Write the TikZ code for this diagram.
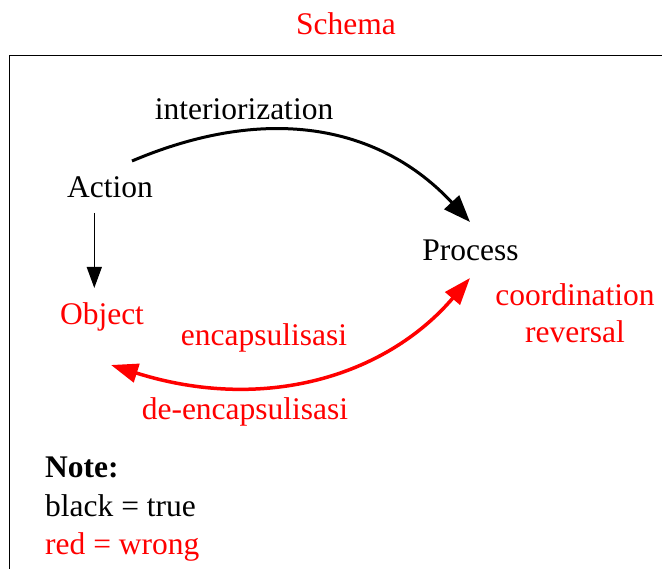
\documentclass[tikz,border=0pt]{standalone}
\usepackage{fontspec}
\setmainfont{Liberation Serif}
\usetikzlibrary{arrows.meta}
\definecolor{wrongred}{RGB}{255,0,0}
\tikzset{
  lbl/.style={anchor=base, inner sep=0pt, font=\fontsize{31.5}{38}\selectfont},
  redlbl/.style={lbl, text=wrongred},
  notelbl/.style={lbl, anchor=base west},
  flow/.style={line width=3pt, -{Triangle[length=27pt,width=20pt]}},
  backflow/.style={line width=3.5pt, draw=wrongred,
    {Triangle[length=27pt,width=19pt]}-{Triangle[length=27pt,width=19pt]}},
  thin arrow/.style={line width=1.3pt, -{Triangle[length=21pt,width=15pt]}}
}
\begin{document}
\begin{tikzpicture}[x=1pt,y=-1pt]
  \useasboundingbox (0,0) rectangle (662,569);
  % outer frame (runs past the right and bottom edges)
  \draw[line width=1.3pt] (680,55.3) -- (9.7,55.3) -- (9.7,600);

  % title
  \node[redlbl] (schema) at (346,35) {Schema};

  % stages
  \node[lbl] (action)  at (110,198) {Action};
  \node[lbl] (process) at (470.5,261) {Process};
  \node[redlbl] (object) at (102,325) {Object};

  % edge labels
  \node[lbl] (interior) at (244,120) {interiorization};
  \node[redlbl] (coord) at (575,306) {coordination};
  \node[redlbl] (rev)   at (575,343) {reversal};
  \node[redlbl] (encap) at (264,346) {encapsulisasi};
  \node[redlbl] (deencap) at (245,420) {de-encapsulisasi};

  % legend
  \node[notelbl, font=\fontsize{31.5}{38}\selectfont\bfseries] (note) at (45,478) {Note:};
  \node[notelbl] (black) at (45,517) {black = true};
  \node[notelbl, text=wrongred] (red) at (45,554) {red = wrong};

  % connector end points
  \coordinate (actOut) at (132,161);
  \coordinate (procIn) at (470,222);
  \coordinate (procRed) at (470,278);
  \coordinate (objRed) at (111,365);
  \coordinate (actDown) at (94.3,213);
  \coordinate (objTop) at (94.3,288);

  % connectors
  \draw[flow] (actOut) .. controls (270,102.5) and (381.6,127) .. (procIn);
  \draw[backflow] (procRed) .. controls (385.5,376.8) and (263,413) .. (objRed);
  \draw[thin arrow] (actDown) -- (objTop);
\end{tikzpicture}
\end{document}
